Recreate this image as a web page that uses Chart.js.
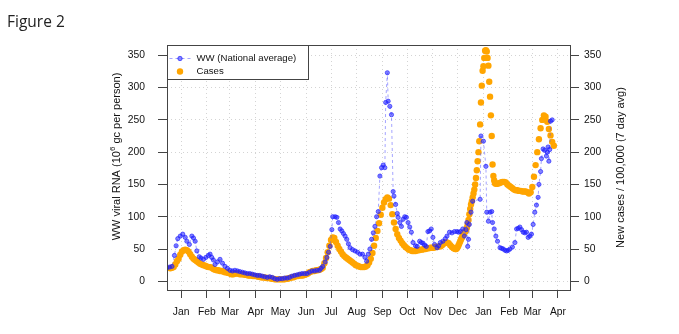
<!DOCTYPE html>
<html>
<head>
<meta charset="utf-8">
<script src="https://cdn.jsdelivr.net/npm/chart.js@4.4.1/dist/chart.umd.min.js"></script>
<style>
body { margin: 0; background: #fff; }
#wrap { position: absolute; left: 0; top: 0; width: 679px; height: 334px; }
#fig { position: absolute; left: 7px; top: 10px; font-family: "Open Sans", sans-serif; font-size: 15.5px; color: #222; }
</style>
</head>
<body>
<div id="wrap"><canvas id="c" width="679" height="334"></canvas></div>
<div id="fig">Figure 2</div>
<script>
// Days are counted from 1 Jan 2021.
var monthDays = [0, 31, 59, 90, 120, 151, 181, 212, 243, 273, 304, 334, 365, 396, 424, 455];
var monthNames = ['Jan', 'Feb', 'Mar', 'Apr', 'May', 'Jun', 'Jul', 'Aug', 'Sep', 'Oct', 'Nov',
    'Dec', 'Jan', 'Feb', 'Mar', 'Apr'];
var yTicks = [0, 50, 100, 150, 200, 250, 300, 350];

// Wastewater samples (national average)
var wwDay = [-17, -14, -11, -8, -6, -4, -1, 2, 5, 7,
    10, 13, 15, 17, 19, 22, 24, 27, 30, 33,
    35, 37, 39, 41, 44, 47, 50, 53, 56, 59,
    62, 65, 68, 71, 74, 77, 80, 83, 86, 89,
    92, 95, 98, 101, 104, 107, 110, 113, 116, 119,
    122, 125, 128, 131, 134, 137, 140, 143, 146, 149,
    152, 155, 158, 161, 164, 167, 169, 171, 174, 176,
    178, 180, 182, 183, 186, 188, 190, 192, 194, 196,
    198, 200, 202, 204, 207, 210, 213, 216, 219, 222,
    224, 226, 228, 230, 232, 234, 236, 238, 240, 242,
    244, 246, 247, 249, 250, 252, 254, 256, 257, 259,
    261, 262, 264, 266, 268, 270, 272, 274, 276, 278,
    280, 283, 285, 288, 290, 292, 294, 296, 298, 300,
    302, 304, 306, 309, 311, 313, 316, 319, 321, 324,
    327, 330, 333, 335, 337, 340, 342, 344, 345, 346,
    347, 348, 350, 352, 361, 362, 365, 368, 369, 371,
    373, 375, 376, 378, 380, 382, 385, 387, 389, 391,
    393, 395, 397, 400, 403, 405, 407, 409, 411, 413,
    415, 417, 419, 421, 423, 425, 427, 429, 431, 432,
    434, 435, 437, 439, 441, 442, 443, 444, 445, 446,
    448];
var wwValue = [21, 22, 23, 40, 55, 66, 70, 73, 68, 62,
    57, 70, 67, 62, 47, 38, 36, 34, 37, 40,
    42, 37, 33, 26, 30, 34, 28, 23, 20, 17,
    16, 17, 16, 15, 14, 13, 12, 12, 11, 10,
    9, 9, 8, 7, 6, 7, 6, 4, 3, 4,
    4, 5, 5, 6, 8, 9, 10, 11, 12, 12,
    12, 14, 16, 16, 17, 17, 20, 23, 30, 37,
    45, 54, 80, 100, 100, 99, 91, 81, 78, 74,
    70, 65, 58, 52, 49, 47, 45, 42, 42, 37,
    31, 42, 50, 65, 75, 85, 100, 108, 163, 176,
    180, 176, 277, 323, 279, 271, 258, 139, 132, 119,
    105, 99, 91, 85, 96, 100, 99, 91, 84, 76,
    60, 55, 54, 62, 60, 59, 56, 54, 77, 78,
    81, 68, 57, 52, 55, 60, 62, 66, 70, 76,
    75, 77, 77, 76, 77, 81, 70, 80, 91, 54,
    65, 88, 107, 124, 127, 225, 217, 178, 107, 93,
    107, 108, 91, 81, 70, 62, 52, 51, 50, 48,
    47, 48, 50, 53, 60, 81, 82, 84, 80, 76,
    75, 76, 68, 70, 73, 88, 107, 118, 130, 150,
    170, 190, 205, 203, 194, 200, 208, 186, 204, 248,
    250];

// New cases / 100,000 (7 day avg): every 2nd day, daily around the winter peak
var casesEarlyStart = -13;
var casesEarly = [20, 21, 22, 26, 31, 35, 41, 46, 48, 49,
    48, 46, 42, 38, 35, 33, 31, 29, 27, 26,
    25, 24, 23, 22, 22, 21, 19, 18, 17, 17,
    16, 16, 15, 14, 14, 13, 12, 11, 11, 12,
    12, 12, 11, 11, 11, 10, 10, 9, 9, 9,
    8, 8, 8, 7, 7, 6, 6, 6, 5, 5,
    5, 4, 4, 3, 3, 3, 3, 3, 3, 3,
    4, 4, 5, 6, 6, 7, 8, 8, 9, 9,
    9, 10, 11, 12, 14, 15, 16, 16, 17, 17,
    18, 19, 21, 28, 36, 45, 55, 64, 68, 67,
    61, 55, 50, 46, 42, 39, 37, 35, 33, 31,
    29, 27, 25, 24, 23, 22, 22, 22, 23, 25,
    29, 35, 44, 55, 67, 78, 90, 103, 114, 122,
    127, 130, 128, 118, 104, 91, 81, 73, 67, 63,
    59, 56, 53, 51, 49, 48, 47, 47, 47, 48,
    48, 49, 49, 50, 50, 51, 51, 52, 52, 52,
    53, 53, 54, 54, 56, 58, 60, 60, 59, 56,
    53, 51];
var casesPeakStart = 330;
var casesPeak = [51, 50, 50, 51, 53, 56, 59, 62, 65, 68,
    71, 73, 75, 77, 79, 83, 88, 95, 104, 112,
    119, 124, 130, 136, 142, 150, 160, 172, 186, 200,
    217, 243, 277, 303, 326, 333, 346, 357, 358, 356,
    346, 334, 309, 286, 257, 225, 181, 163, 156, 152,
    151];
var casesLateStart = 382;
var casesLate = [151, 152, 153, 154, 154, 153, 150, 148, 146, 144,
    142, 141, 141, 140, 140, 139, 139, 139, 138, 136,
    138, 146, 162, 180, 200, 220, 237, 250, 257, 255,
    247, 236, 226, 216, 210];

var orange = '#FFA500';
var blueFill = 'rgba(30, 30, 255, 0.55)';
var blueEdge = 'rgba(30, 30, 255, 0.65)';
var blueLine = 'rgba(90, 90, 255, 0.55)';
var frameColor = '#444';

function toPoints(days, values) {
    return values.map(function (v, i) { return { x: days[i], y: v }; });
}

function stepPoints(start, step, values) {
    return values.map(function (v, i) { return { x: start + i * step, y: v }; });
}

var casePoints = stepPoints(casesEarlyStart, 2, casesEarly)
    .concat(stepPoints(casesPeakStart, 1, casesPeak))
    .concat(stepPoints(casesLateStart, 2, casesLate));

Chart.defaults.font.family = '"Liberation Sans", Arial, sans-serif';
Chart.defaults.color = '#111';

// Box, legend and axis titles, drawn like the R original
var decorations = {
    id: 'decorations',
    afterDraw: function (chart) {
        var ctx = chart.ctx;
        var a = chart.chartArea;
        ctx.save();
        ctx.strokeStyle = frameColor;
        ctx.lineWidth = 1;
        ctx.strokeRect(Math.round(a.left) + 0.5, Math.round(a.top) + 0.5,
            Math.round(a.right - a.left), Math.round(a.bottom - a.top));

        // legend
        var lx = Math.round(a.left) + 0.5, ly = Math.round(a.top) + 0.5;
        ctx.fillStyle = '#fff';
        ctx.fillRect(lx, ly, 141, 34);
        ctx.strokeRect(lx, ly, 141, 34);
        var r1 = ly + 13, r2 = ly + 26;
        ctx.setLineDash([3, 3]);
        ctx.strokeStyle = blueLine;
        ctx.beginPath();
        ctx.moveTo(lx + 2, r1);
        ctx.lineTo(lx + 23, r1);
        ctx.stroke();
        ctx.setLineDash([]);
        ctx.fillStyle = blueFill;
        ctx.strokeStyle = blueEdge;
        ctx.beginPath();
        ctx.arc(lx + 12.5, r1, 2.2, 0, Math.PI * 2);
        ctx.fill();
        ctx.stroke();
        ctx.fillStyle = orange;
        ctx.beginPath();
        ctx.arc(lx + 12.5, r2, 3.2, 0, Math.PI * 2);
        ctx.fill();
        ctx.fillStyle = '#111';
        ctx.font = '9.6px "Liberation Sans", Arial, sans-serif';
        ctx.textBaseline = 'middle';
        ctx.textAlign = 'left';
        ctx.fillText('WW (National average)', lx + 29, r1);
        ctx.fillText('Cases', lx + 29, r2);

        // left title with superscript
        var midY = (a.top + a.bottom) / 2;
        var f = '11px "Liberation Sans", Arial, sans-serif';
        var fs = '8px "Liberation Sans", Arial, sans-serif';
        var p1 = 'WW viral RNA (10', p2 = '6', p3 = ' gc per person)';
        ctx.font = f;
        var w1 = ctx.measureText(p1).width, w3 = ctx.measureText(p3).width;
        ctx.font = fs;
        var w2 = ctx.measureText(p2).width;
        var total = w1 + w2 + w3;
        ctx.save();
        ctx.translate(a.left - 50, midY - 11);
        ctx.rotate(-Math.PI / 2);
        ctx.textBaseline = 'middle';
        ctx.font = f;
        ctx.fillText(p1, -total / 2, 0);
        ctx.font = fs;
        ctx.fillText(p2, -total / 2 + w1, -4);
        ctx.font = f;
        ctx.fillText(p3, -total / 2 + w1 + w2, 0);
        ctx.restore();

        // right title
        ctx.save();
        ctx.translate(a.right + 51, midY);
        ctx.rotate(-Math.PI / 2);
        ctx.font = f;
        ctx.textAlign = 'center';
        ctx.textBaseline = 'middle';
        ctx.fillText('New cases / 100,000 (7 day avg)', 0, 0);
        ctx.restore();
        ctx.restore();
    }
};

var tickFont = { size: 10.3 };

function yAxis(position, pad, width) {
    return {
        type: 'linear',
        position: position,
        min: -13.5,
        max: 366,
        afterBuildTicks: function (s) {
            s.ticks = yTicks.map(function (v) { return { value: v }; });
        },
        afterFit: function (s) { s.width = width; },
        ticks: { font: tickFont, padding: pad, color: '#111' },
        grid: {
            color: '#d4d4d4',
            drawOnChartArea: position === 'left',
            tickColor: frameColor,
            tickLength: 9
        },
        border: { display: false, dash: [1, 3] }
    };
}

new Chart(document.getElementById('c'), {
    type: 'line',
    data: {
        datasets: [{
            label: 'WW (National average)',
            data: toPoints(wwDay, wwValue),
            yAxisID: 'y',
            borderColor: blueLine,
            borderWidth: 1,
            borderDash: [3, 3],
            tension: 0,
            pointRadius: 2.1,
            pointBorderWidth: 1,
            pointBackgroundColor: blueFill,
            pointBorderColor: blueEdge
        }, {
            label: 'Cases',
            data: casePoints,
            yAxisID: 'y',
            showLine: false,
            pointRadius: 3.2,
            pointBorderWidth: 0,
            pointBackgroundColor: orange,
            pointBorderColor: orange
        }]
    },
    options: {
        responsive: false,
        animation: false,
        devicePixelRatio: 1,
        layout: { padding: { top: 45, left: 0, right: 0, bottom: 0 } },
        plugins: { legend: { display: false }, tooltip: { enabled: false } },
        scales: {
            x: {
                type: 'linear',
                position: 'bottom',
                min: -17,
                max: 469.5,
                afterBuildTicks: function (s) {
                    s.ticks = monthDays.map(function (v) { return { value: v }; });
                },
                afterFit: function (s) { s.height = 44; },
                ticks: {
                    font: tickFont,
                    color: '#111',
                    autoSkip: false,
                    maxRotation: 0,
                    padding: 8,
                    callback: function (v, i) { return monthNames[i]; }
                },
                grid: { color: '#d4d4d4', tickColor: frameColor, tickLength: 8 },
                border: { display: false, dash: [1, 3] }
            },
            y: yAxis('left', 13, 167),
            y2: yAxis('right', 5, 109)
        }
    },
    plugins: [decorations]
});
</script>
</body>
</html>
